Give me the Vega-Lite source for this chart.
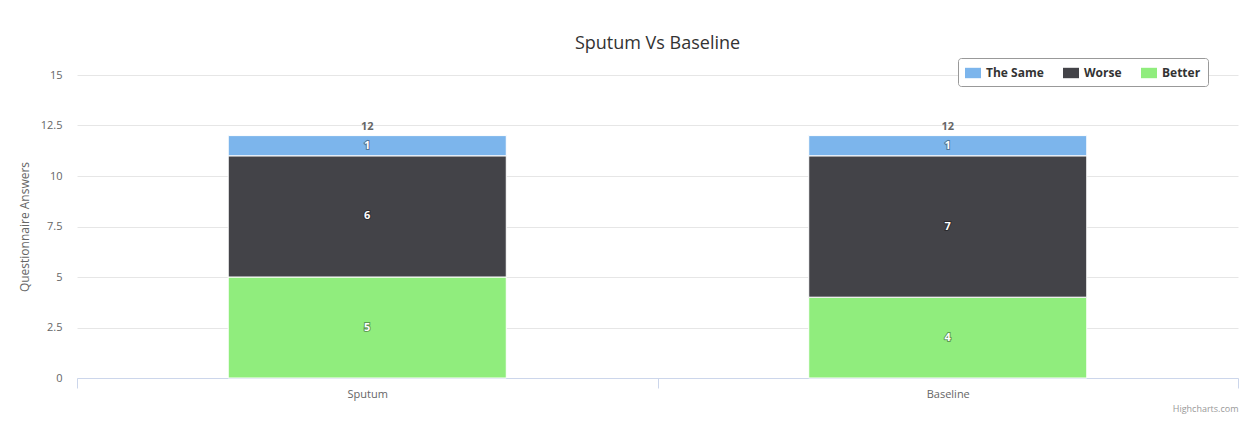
{
  "$schema": "https://vega.github.io/schema/vega-lite/v6.json",
  "width": 1161,
  "height": 303,
  "autosize": {"type": "none"},
  "padding": {"left": 77, "top": 75, "right": 15, "bottom": 49},
  "background": "white",
  "config": {
    "font": "Open Sans",
    "view": {"stroke": null},
    "axisY": {
      "grid": true,
      "gridColor": "#e6e6e6",
      "domain": false,
      "ticks": false,
      "labelColor": "#666666",
      "labelFontSize": 11,
      "labelPadding": 15,
      "titleColor": "#666666",
      "titleFontSize": 12,
      "titleFontWeight": "normal",
      "titlePadding": 9
    },
    "axisX": {
      "grid": false,
      "domainColor": "#ccd6eb",
      "tickColor": "#ccd6eb",
      "tickSize": 10,
      "tickBand": "extent",
      "labelAngle": 0,
      "labelColor": "#666666",
      "labelFontSize": 11,
      "labelPadding": 0,
      "titleAnchor": "end",
      "titleFontSize": 9,
      "titleColor": "#999999",
      "titleFontWeight": "normal",
      "titlePadding": 5
    }
  },
  "title": {
    "text": "Sputum Vs Baseline",
    "fontSize": 18,
    "fontWeight": "normal",
    "color": "#333333",
    "offset": 5,
    "anchor": "middle"
  },
  "data": {
    "values": [
      {"category": "Sputum", "series": "Better", "value": 5},
      {"category": "Sputum", "series": "Worse", "value": 6},
      {"category": "Sputum", "series": "The Same", "value": 1},
      {"category": "Baseline", "series": "Better", "value": 4},
      {"category": "Baseline", "series": "Worse", "value": 7},
      {"category": "Baseline", "series": "The Same", "value": 1}
    ]
  },
  "transform": [
    {"calculate": "indexof(['Better','Worse','The Same'], datum.series)", "as": "ord"},
    {"stack": "value", "groupby": ["category"], "sort": [{"field": "ord", "order": "ascending"}], "as": ["v0", "v1"]},
    {"calculate": "(datum.v0 + datum.v1) / 2", "as": "mid"}
  ],
  "encoding": {
    "x": {
      "field": "category",
      "type": "nominal",
      "sort": ["Sputum", "Baseline"],
      "scale": {"paddingInner": 0, "paddingOuter": 0},
      "title": "Highcharts.com"
    }
  },
  "layer": [
    {
      "mark": {"type": "bar", "stroke": "white", "strokeWidth": 1, "width": {"band": 0.479}},
      "encoding": {
        "y": {
          "field": "v0",
          "type": "quantitative",
          "scale": {"domain": [0, 15], "nice": false},
          "title": "Questionnaire Answers",
          "axis": {"values": [0, 2.5, 5, 7.5, 10, 12.5, 15], "format": ".1~f"}
        },
        "y2": {"field": "v1"},
        "color": {
          "field": "series",
          "type": "nominal",
          "scale": {"domain": ["The Same", "Worse", "Better"], "range": ["#7cb5ec", "#434348", "#90ed7d"]},
          "legend": {
            "orient": "none",
            "legendX": 881,
            "legendY": -17,
            "direction": "horizontal",
            "title": null,
            "strokeColor": "#999999",
            "cornerRadius": 3,
            "padding": 7,
            "fillColor": "white",
            "labelFontWeight": "bold",
            "labelFontSize": 12,
            "labelColor": "#333333",
            "symbolType": "M-1,-0.65H1V0.65H-1Z",
            "symbolSize": 256,
            "symbolStrokeWidth": 0,
            "symbolOpacity": 1,
            "columnPadding": 19,
            "labelOffset": 5
          }
        }
      }
    },
    {
      "mark": {"type": "text", "fontWeight": "bold", "fontSize": 11, "fill": "#000000", "stroke": "#000000", "strokeWidth": 2, "strokeOpacity": 0.35, "fillOpacity": 0.35},
      "encoding": {
        "y": {"field": "mid", "type": "quantitative", "title": "Questionnaire Answers"},
        "text": {"field": "value", "type": "quantitative"}
      }
    },
    {
      "mark": {"type": "text", "fontWeight": "bold", "fontSize": 11, "fill": "#ffffff"},
      "encoding": {
        "y": {"field": "mid", "type": "quantitative", "title": "Questionnaire Answers"},
        "text": {"field": "value", "type": "quantitative"}
      }
    },
    {
      "transform": [{"aggregate": [{"op": "sum", "field": "value", "as": "total"}], "groupby": ["category"]}],
      "mark": {"type": "text", "fontWeight": "bold", "fontSize": 11, "fill": "#666666", "baseline": "bottom", "dy": -4},
      "encoding": {
        "y": {"field": "total", "type": "quantitative", "title": "Questionnaire Answers"},
        "text": {"field": "total", "type": "quantitative"}
      }
    }
  ]
}
